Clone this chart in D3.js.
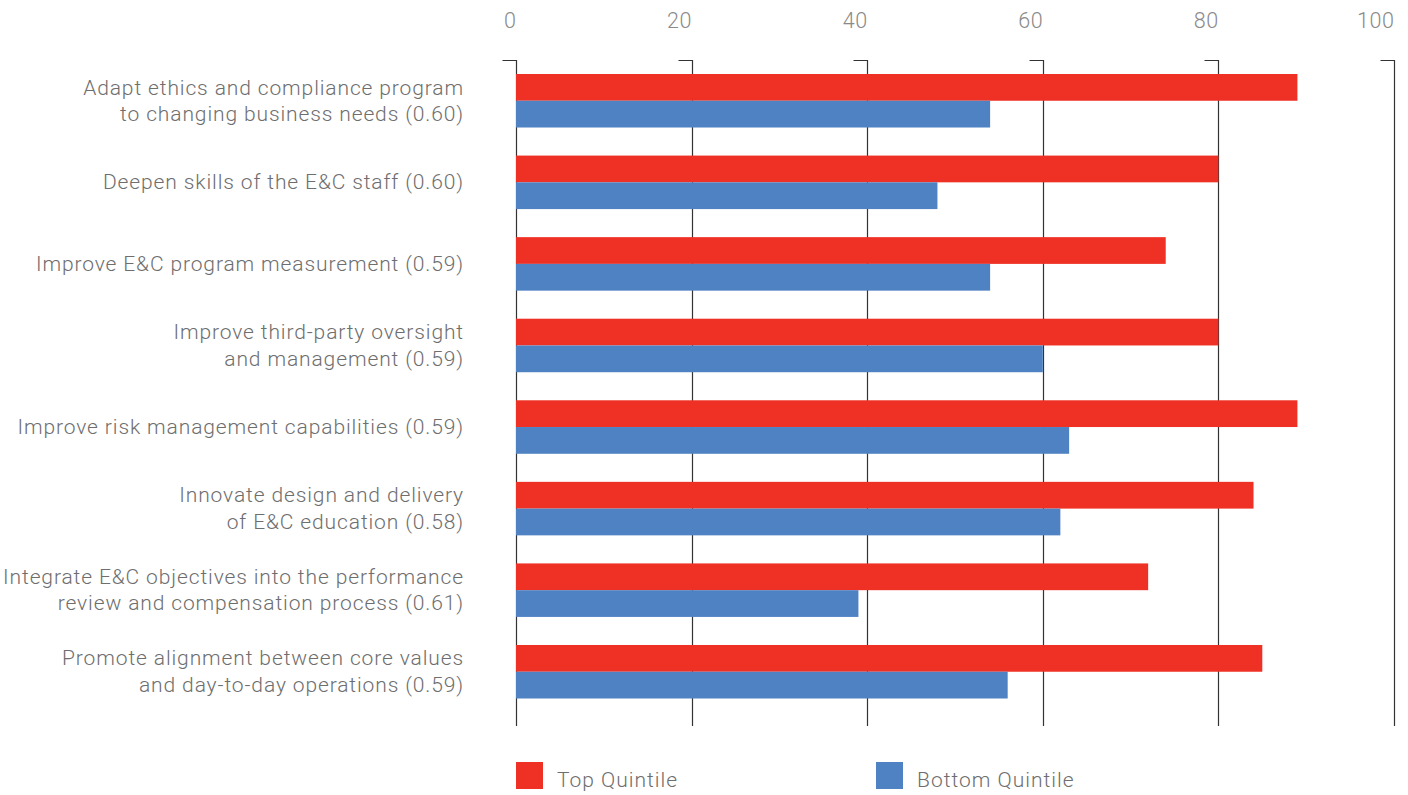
<!DOCTYPE html>
<html>
<head>
<meta charset="utf-8">
<script src="https://cdn.jsdelivr.net/npm/d3@7"></script>
<style>
  html, body { margin: 0; padding: 0; background: #fff; }
  svg { display: block; }
  text { font-family: Roboto, "Liberation Sans", Arial, sans-serif; font-weight: 300; }
</style>
</head>
<body>
<svg id="chart" width="1408" height="795"></svg>
<script>
// Ethics & compliance priorities: share of respondents, top vs bottom quintile
const categories = [
  ["Adapt ethics and compliance program", "to changing business needs (0.60)"],
  ["Deepen skills of the E&C staff (0.60)"],
  ["Improve E&C program measurement (0.59)"],
  ["Improve third-party oversight", "and management (0.59)"],
  ["Improve risk management capabilities (0.59)"],
  ["Innovate design and delivery", "of E&C education (0.58)"],
  ["Integrate E&C objectives into the performance", "review and compensation process (0.61)"],
  ["Promote alignment between core values", "and day-to-day operations (0.59)"]
];
const topQuintile    = [89, 80, 74, 80, 89, 84, 72, 85];
const bottomQuintile = [54, 48, 54, 60, 63, 62, 39, 56];
const seriesNames  = ["Top Quintile", "Bottom Quintile"];
const seriesColors = ["#EF3125", "#4F82C3"];
const tickValues   = [0, 20, 40, 60, 80, 100];

const svg = d3.select("#chart");

const x = d3.scaleLinear().domain([0, 100]).range([516, 1394]);
const y = d3.scaleBand()
  .domain(d3.range(categories.length))
  .range([74, 698.5])
  .paddingInner(0.344)
  .paddingOuter(0);
const sub = d3.scaleBand().domain([0, 1]).range([0, y.bandwidth()]);

const gridTop = 60, gridBottom = 726, hook = 14;

// gridlines with a short hook at the top
svg.append("g").selectAll("path")
  .data(tickValues)
  .join("path")
  .attr("d", d => {
    const px = Math.round(x(d)) + 0.5;
    return `M${px - hook},${gridTop + 0.5}H${px}V${gridBottom}`;
  })
  .attr("fill", "none")
  .attr("stroke", "#333")
  .attr("stroke-width", 1.2);

// top axis labels, right-aligned to each gridline
const axis = d3.axisTop(x).tickValues(tickValues).tickSize(0).tickPadding(0);
const gAxis = svg.append("g").attr("transform", "translate(0,28)").call(axis);
gAxis.select(".domain").remove();
gAxis.selectAll("text")
  .attr("text-anchor", "end")
  .attr("dy", 0)
  .attr("x", 0)
  .attr("y", 0)
  .attr("fill", "#8a8a8a")
  .style("font-size", "21.5px")
  .style("font-family", "Roboto, Arial, sans-serif")
  .style("font-weight", 300)
  .style("letter-spacing", "0.6px");

// bars
const series = [topQuintile, bottomQuintile];
const rows = svg.append("g").selectAll("g")
  .data(categories.map((c, i) => i))
  .join("g")
  .attr("transform", i => `translate(0,${y(i)})`);

rows.selectAll("rect")
  .data(i => series.map((s, k) => ({ k, v: s[i] })))
  .join("rect")
  .attr("x", x(0))
  .attr("y", d => sub(d.k))
  .attr("width", d => x(d.v) - x(0))
  .attr("height", sub.bandwidth())
  .attr("fill", d => seriesColors[d.k]);

// category labels
const lineH = 26.5;
rows.append("text")
  .attr("text-anchor", "end")
  .attr("fill", "#6e6e6e")
  .style("font-size", "21px")
  .style("letter-spacing", "0.88px")
  .each(function(i) {
    const lines = categories[i];
    const mid = y.bandwidth() / 2 + 7;
    const t = d3.select(this);
    lines.forEach((ln, j) => {
      t.append("tspan")
        .attr("x", 464)
        .attr("y", mid + (j - (lines.length - 1) / 2) * lineH)
        .text(ln);
    });
  });

// legend
const legendX = [516, 876];
const leg = svg.append("g").selectAll("g")
  .data(seriesNames)
  .join("g")
  .attr("transform", (d, i) => `translate(${legendX[i]},762)`);
leg.append("rect")
  .attr("width", 27).attr("height", 27)
  .attr("fill", (d, i) => seriesColors[i]);
leg.append("text")
  .attr("x", 41).attr("y", 25)
  .attr("fill", "#6e6e6e")
  .style("font-size", "21px")
  .style("letter-spacing", "1px")
  .text(d => d);
</script>
</body>
</html>
